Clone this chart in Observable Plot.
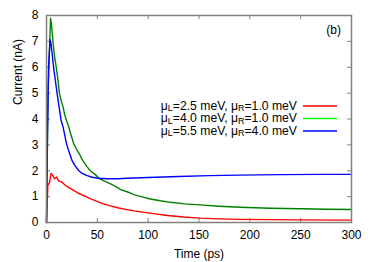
<!DOCTYPE html>
<html>
<head>
<meta charset="utf-8">
<script src="https://cdn.jsdelivr.net/npm/d3@7"></script>
<script src="https://cdn.jsdelivr.net/npm/@observablehq/plot@0.6"></script>
<style>
  html, body { margin: 0; padding: 0; background: #fff; }
  svg { font-family: "Liberation Sans", Arial, sans-serif; }
</style>
</head>
<body>
<div id="chart"></div>
<script>
// Time (ps) and current (nA) for each series
const tRed = [0,1.3,3,4.5,5.6,7.9,9.8,12.1,15.4,18.7,22,26.8,31,36.7,43,49.8,56,63,70,79,86,100,119,135,151,170,191,220,250,300];
const iRed = [0,1.43,1.55,1.9,1.85,1.69,1.75,1.6,1.56,1.43,1.35,1.24,1.14,1.04,0.92,0.82,0.72,0.64,0.57,0.5,0.45,0.37,0.27,0.21,0.17,0.14,0.12,0.11,0.1,0.09];
const tGreen = [0,1.5,4,5,6.6,8,9.8,11,12.8,14.5,16.4,18,19.7,22,24,26.8,30,33,35.7,40,43,48,52,57,63,69.5,73,80.6,86,93,102,112,122,136,151,170,191,220,250,275,300];
const iGreen = [0,5,7.9,7.6,6.9,6.4,5.95,5.6,4.97,4.7,4.45,4.15,3.94,3.68,3.4,3.04,2.8,2.6,2.39,2.15,2.0,1.85,1.7,1.6,1.49,1.36,1.27,1.17,1.08,1.0,0.91,0.84,0.78,0.72,0.68,0.63,0.59,0.55,0.53,0.51,0.5];
const tBlue = [0,1,2,3.5,4.5,7.2,10.5,12.8,14.4,16.4,19.7,22,25.2,28,31.8,35,40,45,51,60,70,80,100,130,160,190,230,270,300];
const iBlue = [0,3.5,6,7.07,6.9,5.93,4.97,4.35,3.94,3.68,3.04,2.75,2.39,2.2,2.0,1.9,1.81,1.75,1.71,1.69,1.69,1.71,1.74,1.78,1.81,1.83,1.85,1.86,1.86];

const seriesNames = ["red", "green", "blue"];
const seriesColors = ["#ff0000", "#00ff00", "#0000ff"];
const legendLabels = [
  ["2.5", "1.0"],
  ["4.0", "1.0"],
  ["5.5", "4.0"]
];
const xTicks = [0, 50, 100, 150, 200, 250, 300];
const yTicks = [0, 1, 2, 3, 4, 5, 6, 7, 8];
const xLabel = "Time (ps)";
const yLabel = "Current (nA)";
const panelTag = "(b)";

const toRows = (ts, is, s) => ts.map((t, k) => ({t, i: is[k], s}));
const data = [
  ...toRows(tRed, iRed, "red"),
  ...toRows(tGreen, iGreen, "green"),
  ...toRows(tBlue, iBlue, "blue")
];

const W = 374, H = 262;
const mL = 46, mR = 23, mT = 15, mB = 40;
const innerH = H - mT - mB;
const tickLen = 4;
const frameColor = "#808080";
const fs = 12;

const plot = Plot.plot({
  width: W,
  height: H,
  marginLeft: mL,
  marginRight: mR,
  marginTop: mT,
  marginBottom: mB,
  style: {fontFamily: "Liberation Sans, Arial, sans-serif", fontSize: fs + "px", background: "#fff", color: "#000"},
  x: {domain: [0, 300]},
  y: {domain: [0, 8]},
  color: {domain: seriesNames, range: seriesColors},
  marks: [
    Plot.axisX(xTicks, {anchor: "bottom", tickSize: 0, tickPadding: 8, label: xLabel, labelAnchor: "center", labelArrow: "none", labelOffset: 35, fontSize: fs}),
    Plot.axisY(yTicks, {anchor: "left", tickSize: 0, tickPadding: 8, label: null, fontSize: fs}),
    Plot.text([yLabel], {text: d => d, frameAnchor: "left", rotate: -90, dx: -28, dy: -14, fontSize: fs, fill: "#000"}),
    Plot.tickX(xTicks, {x: d => d, insetTop: innerH - tickLen, stroke: frameColor, strokeWidth: 1}),
    Plot.tickX(xTicks, {x: d => d, insetBottom: innerH - tickLen, stroke: frameColor, strokeWidth: 1}),
    Plot.tickY(yTicks, {y: d => d, insetRight: (W - mL - mR) - tickLen, stroke: frameColor, strokeWidth: 1}),
    Plot.tickY(yTicks, {y: d => d, insetLeft: (W - mL - mR) - tickLen, stroke: frameColor, strokeWidth: 1}),
    Plot.line(data, {x: "t", y: "i", z: "s", stroke: "s", strokeWidth: 1.4, curve: "linear"}),
    Plot.frame({stroke: frameColor, strokeWidth: 1.5})
  ]
});

document.getElementById("chart").appendChild(plot);

// Legend and panel tag inside the plot frame
const svg = d3.select(plot);
const right = W - mR;
const g = svg.append("g").attr("font-family", "Liberation Sans, Arial, sans-serif").attr("font-size", 12.2);
legendLabels.forEach((lab, k) => {
  const y = mT + 91 + k * 12.5;
  const txt = g.append("text")
    .attr("x", right - 54)
    .attr("y", y + 0.5)
    .attr("text-anchor", "end")
    .attr("dominant-baseline", "middle")
    .attr("fill", "#000");
  txt.append("tspan").text("\u03bc");
  txt.append("tspan").attr("dy", 2.5).attr("font-size", 9).text("L");
  txt.append("tspan").attr("dy", -2.5).text(`=${lab[0]} meV, \u03bc`);
  txt.append("tspan").attr("dy", 2.5).attr("font-size", 9).text("R");
  txt.append("tspan").attr("dy", -2.5).text(`=${lab[1]} meV`);
  g.append("line")
    .attr("x1", right - 48).attr("x2", right - 14)
    .attr("y1", y).attr("y2", y)
    .attr("stroke", seriesColors[k]).attr("stroke-width", 1.4);
});
g.append("text")
  .attr("x", right - 10)
  .attr("y", mT + 16)
  .attr("text-anchor", "end")
  .attr("dominant-baseline", "middle")
  .attr("fill", "#000")
  .attr("font-size", 12)
  .text(panelTag);
</script>
</body>
</html>
